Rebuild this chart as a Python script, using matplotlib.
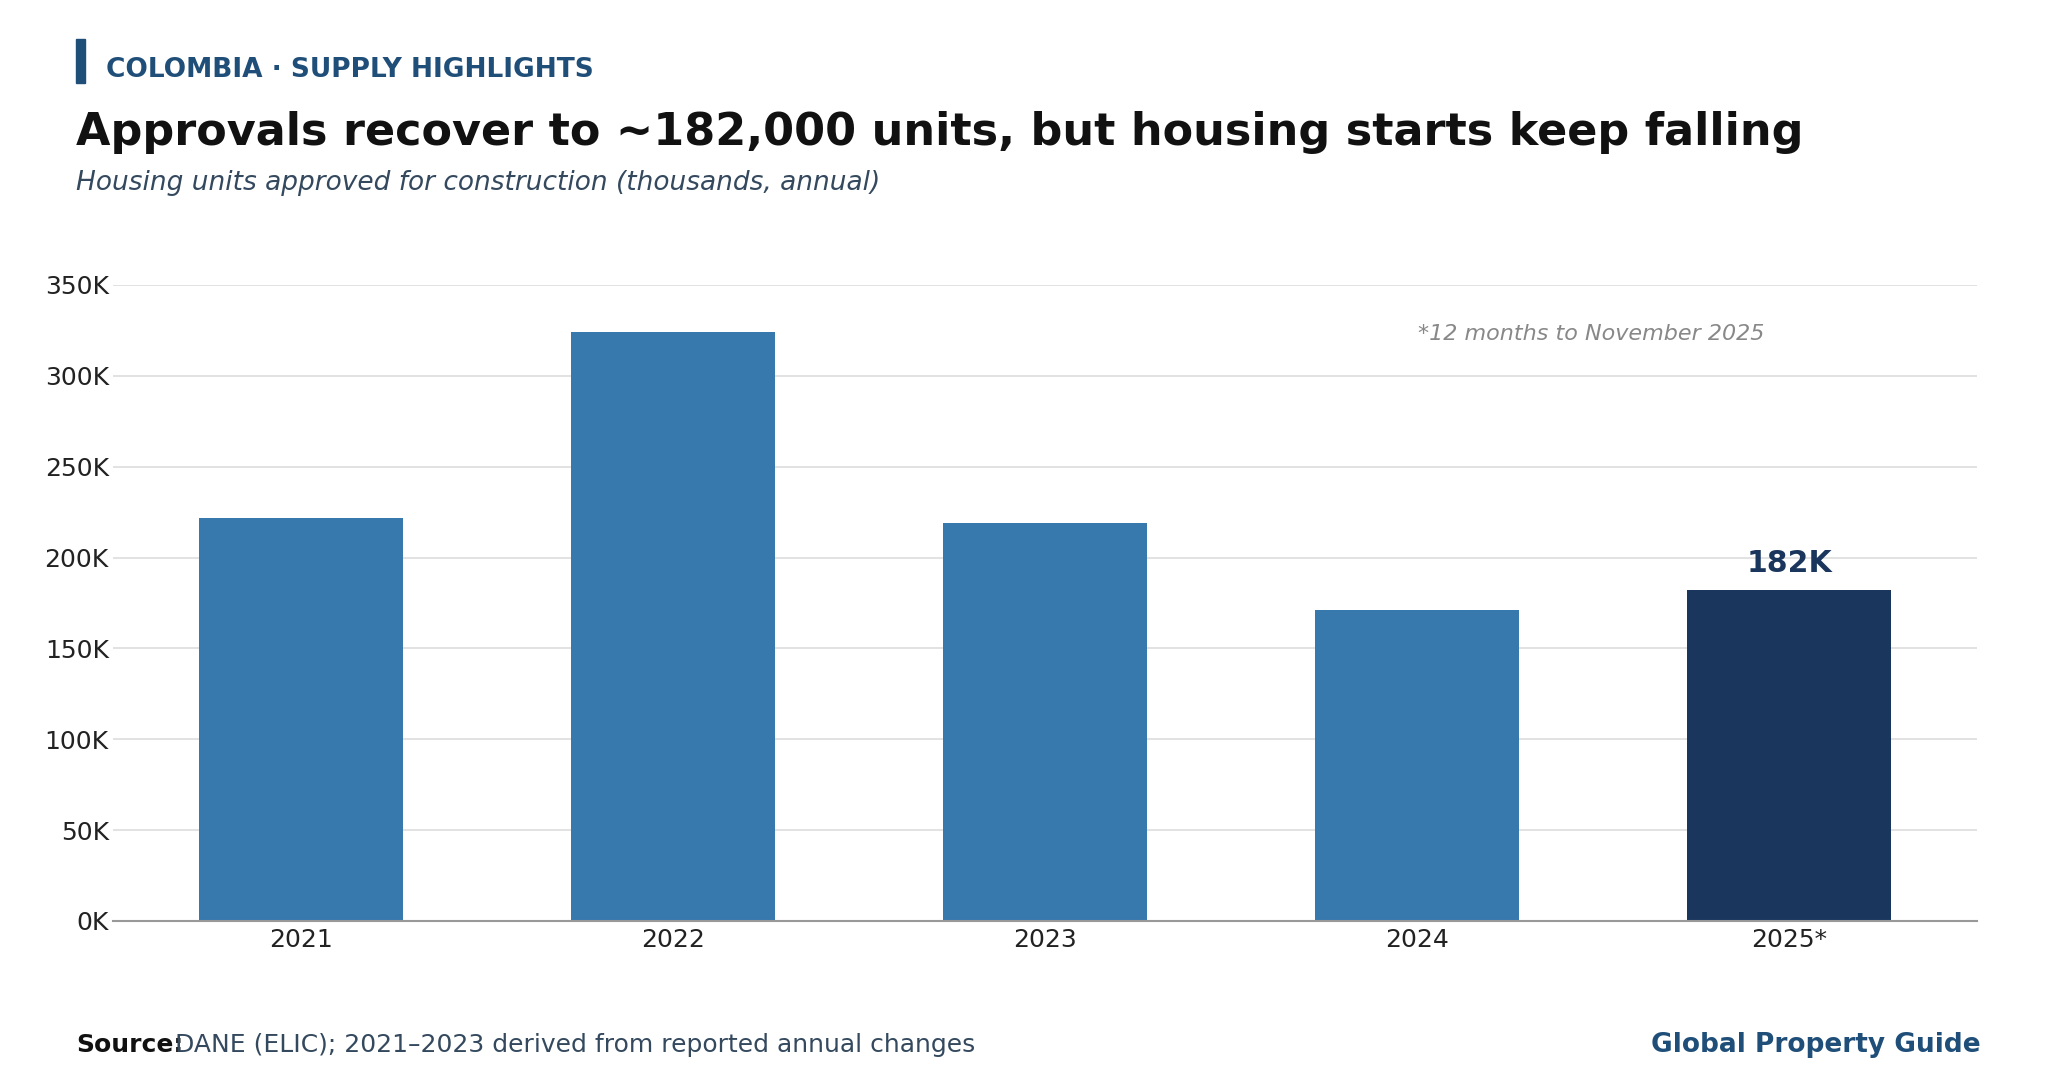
import matplotlib
matplotlib.use("Agg")
import matplotlib.pyplot as plt
from matplotlib.patches import Rectangle
from matplotlib.ticker import FuncFormatter

# data (housing units approved, annual)
years = ["2021", "2022", "2023", "2024", "2025*"]
approvals = [222000, 324000, 219000, 171000, 182000]
highlight_idx = 4
highlight_label = "182K"

W, H = 2060, 1090
BAR_BLUE = "#3778ad"
DARK_BLUE = "#1a365d"
HEAD_BLUE = "#1f4e79"
SLATE = "#34495e"


def fx(px):
    return px / W


def fy(py):
    return 1 - py / H


fig = plt.figure(figsize=(W / 100, H / 100), dpi=100)
fig.patch.set_facecolor("white")

# header
fig.patches.append(Rectangle((fx(76), fy(83)), fx(9), 44 / H, transform=fig.transFigure,
                             color=HEAD_BLUE, zorder=3))
fig.text(fx(106), fy(77), "COLOMBIA · SUPPLY HIGHLIGHTS", fontsize=19, fontweight="bold",
         color=HEAD_BLUE, va="baseline")
fig.text(fx(76), fy(145), "Approvals recover to ~182,000 units, but housing starts keep falling",
         fontsize=32, fontweight="bold", color="#111111", va="baseline")
fig.text(fx(76), fy(190), "Housing units approved for construction (thousands, annual)",
         fontsize=19, style="italic", color=SLATE, va="baseline")

# chart
ax = fig.add_axes([fx(113), fy(921), fx(1977) - fx(113), (921 - 285) / H])
colors = [DARK_BLUE if i == highlight_idx else BAR_BLUE for i in range(len(years))]
x = list(range(len(years)))
ax.bar(x, approvals, width=0.55, color=colors, zorder=3)

ax.set_xlim(-0.505, 4.505)
ax.set_ylim(0, 350000)
ax.set_yticks(range(0, 350001, 50000))
ax.yaxis.set_major_formatter(FuncFormatter(lambda v, p: f"{int(v / 1000)}K"))
ax.set_xticks(x)
ax.set_xticklabels(years)
ax.tick_params(axis="both", labelsize=18, colors="#222222", length=0)
ax.tick_params(axis="x", pad=5)
ax.tick_params(axis="y", pad=3)
ax.grid(axis="y", color="#dddddd", linewidth=1.2, zorder=0)
for s in ["top", "right", "left"]:
    ax.spines[s].set_visible(False)
ax.spines["bottom"].set_color("#999999")
ax.spines["bottom"].set_linewidth(1.5)
ax.spines["bottom"].set_zorder(4)

ax.annotate(highlight_label, (highlight_idx, approvals[highlight_idx]), xytext=(0, 9),
            textcoords="offset points", ha="center", va="bottom", fontsize=21.5,
            fontweight="bold", color=DARK_BLUE)

fig.text(fx(1764), fy(334), "*12 months to November 2025", fontsize=16, style="italic",
         color="#888888", ha="right", va="center")

# footer
fig.text(fx(76), fy(1045), "Source:", fontsize=18, fontweight="bold", color="#111111",
         va="center")
fig.text(fx(175), fy(1045), "DANE (ELIC); 2021–2023 derived from reported annual changes",
         fontsize=18, color=SLATE, va="center")
fig.text(fx(1981), fy(1045), "Global Property Guide", fontsize=19, fontweight="bold",
         color=HEAD_BLUE, ha="right", va="center")

fig.savefig("out.png", dpi=100, facecolor="white")
